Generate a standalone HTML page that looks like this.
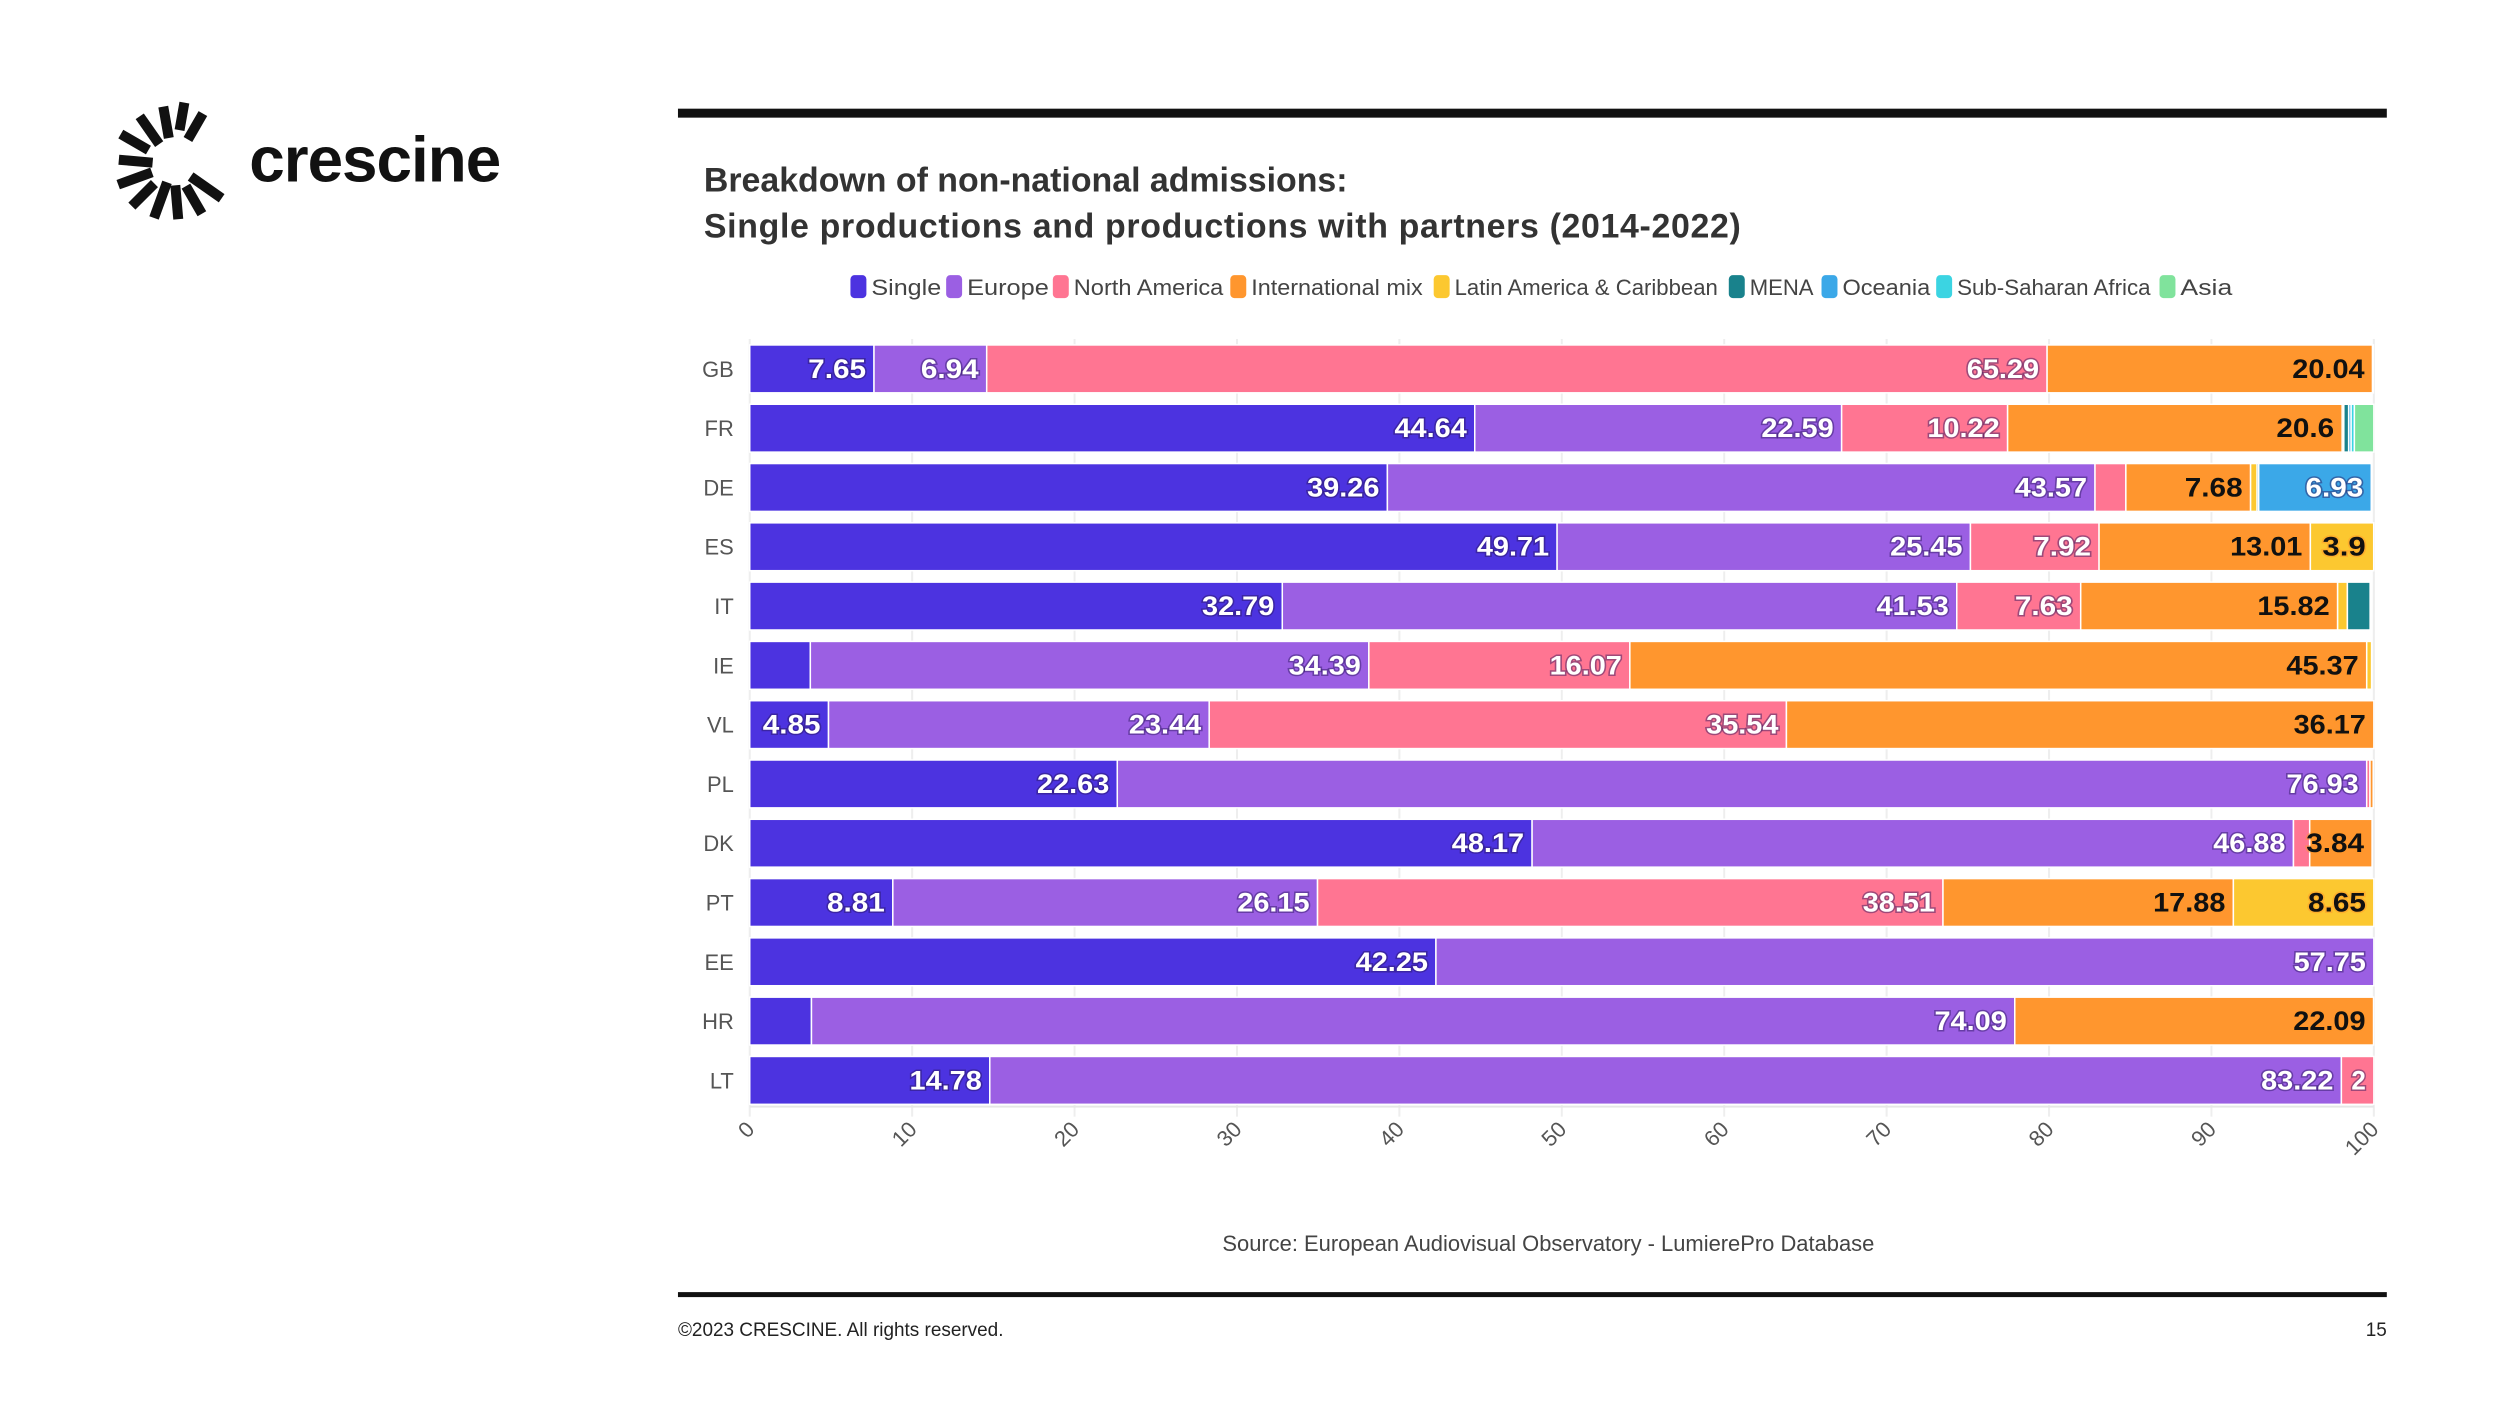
<!DOCTYPE html>
<html><head><meta charset="utf-8"><style>
body{margin:0;background:#fff;}
svg{display:block;font-family:"Liberation Sans",sans-serif;}
</style></head><body>
<svg id="svgroot" width="2500" height="1407" viewBox="0 0 2500 1407" xmlns="http://www.w3.org/2000/svg">
<g id="s" transform="scale(0.997)">
<g id="logo"></g>
<text x="250" y="182" font-size="64" font-weight="bold" letter-spacing="-1" fill="#111">crescine</text>
<rect x="680" y="109" width="1714" height="9" fill="#111"/>
<text x="706" y="192" font-size="34" font-weight="bold" fill="#333">Breakdown of non-national admissions:</text>
<text x="706" y="238" font-size="34" font-weight="bold" fill="#333" textLength="1040">Single productions and productions with partners (2014-2022)</text>
<g id="legend"></g>
<g id="grid"></g>
<g id="bars"></g>
<g id="axis"></g>
<text x="1553" y="1255" font-size="22" fill="#444" text-anchor="middle">Source: European Audiovisual Observatory - LumierePro Database</text>
<rect x="680" y="1296" width="1714" height="5" fill="#111"/>
<text x="680" y="1340" font-size="19" fill="#222">©2023 CRESCINE. All rights reserved.</text>
<text x="2394" y="1340" font-size="19" fill="#222" text-anchor="end">15</text>
</g>
</svg>
<script>
const categories=["GB","FR","DE","ES","IT","IE","VL","PL","DK","PT","EE","HR","LT"];
const seriesNames=["Single","Europe","North America","International mix","Latin America & Caribbean","MENA","Oceania","Sub-Saharan Africa","Asia"];
const single=[7.65,44.64,39.26,49.71,32.79,3.73,4.85,22.63,48.17,8.81,42.25,3.8,14.78];
const europe=[6.94,22.59,43.57,25.45,41.53,34.39,23.44,76.93,46.88,26.15,57.75,74.09,83.22];
const northAmerica=[65.29,10.22,1.9,7.92,7.63,16.07,35.54,0.2,1.0,38.51,0,0,2];
const intlMix=[20.04,20.6,7.68,13.01,15.82,45.37,36.17,0.2,3.84,17.88,0,22.09,0];
const latam=[0.05,0.1,0.4,3.9,0.6,0.3,0,0,0,8.65,0,0,0];
const mena=[0,0.3,0.1,0,1.4,0,0,0,0,0,0,0,0];
const oceania=[0,0.15,6.93,0,0,0,0,0,0,0,0,0,0];
const ssa=[0,0.2,0,0,0,0,0,0,0,0,0,0,0];
const asia=[0,1.2,0,0,0,0,0,0,0,0,0,0,0];
const ticks=[0,10,20,30,40,50,60,70,80,90,100];
const series=[single,europe,northAmerica,intlMix,latam,mena,oceania,ssa,asia];
const colors=["#4c33e0","#9b5fe3","#ff7592","#ff962e","#fcc830","#19828c","#3ba8e8","#3bd4e2","#80e39c"];
const dark=[false,false,false,true,true,false,false,false,false];
const NS="http://www.w3.org/2000/svg";
function mk(t,a,p){const e=document.createElementNS(NS,t);for(const k in a)e.setAttribute(k,a[k]);(p||document.getElementById('s')).appendChild(e);return e;}
const X0=752,X1=2381;
const x=v=>X0+(X1-X0)*v/100;
const yC=i=>370+i*59.47;
const BH=48;
// logo rays
const logo=document.getElementById('logo');
const rays=[[-100,26,22],[-125,24,24],[-150,28,22],[-175,20,24],[160,22,26],[135,26,22],[110,18,28],[85,20,24],[60,24,22],[35,20,28],[-60,28,20],[-80,34,18]];
rays.forEach((r,i)=>{const a=r[0]*Math.PI/180;const cx=174+Math.cos(a)*(r[1]+r[2]/2+6),cy=165+Math.sin(a)*(r[1]+r[2]/2+6);
const e=mk('rect',{x:cx-r[2]/2-5,y:cy-5,width:r[2]+10,height:10,fill:'#111',transform:`rotate(${r[0]} ${cx} ${cy})`},logo);

});
// legend
const lg=document.getElementById('legend');
const lx=[853,949,1056,1234,1438,1734,1827,1942,2166];
const lw=[70,82,150,172,264,64,88,194,52];
seriesNames.forEach((n,i)=>{const g=mk('g',{},lg);


mk('rect',{x:lx[i],y:276,width:16,height:23,rx:4,fill:colors[i]},g);
mk('text',{x:lx[i]+21,y:296,'font-size':22,fill:'#444',textLength:lw[i],lengthAdjust:'spacingAndGlyphs'},g).textContent=n;});
// grid
const gr=document.getElementById('grid');
ticks.forEach(t=>{const l=mk('line',{x1:x(t),x2:x(t),y1:340,y2:1120,stroke:'#eee','stroke-width':2},gr);

});
// bars
const bg=document.getElementById('bars');
categories.forEach((c,i)=>{
 const cl=mk('text',{x:736,y:yC(i)+8,'font-size':22,fill:'#555','text-anchor':'end'},bg);
 
 
 cl.textContent=c;
 let acc=0;
 series.forEach((s,j)=>{const v=s[i];if(!v)return;
  const r=mk('rect',{x:x(acc),y:yC(i)-BH/2,width:Math.max(0,x(acc+v)-x(acc)),height:BH,fill:colors[j],stroke:'#fff','stroke-width':1.5},bg);
  
  
  const txt=String(v);
  if(v>=3.84||(Number.isInteger(v)&&v>=2)){const t=mk('text',{x:x(acc+v)-8,y:yC(i)+9,'font-size':27,'font-weight':'bold','text-anchor':'end',fill:dark[j]?'#111':'#fff',stroke:dark[j]?'rgba(255,150,40,0.5)':'rgba(40,20,90,0.45)','stroke-width':3,'paint-order':'stroke',textLength:txt.length*14.5,lengthAdjust:'spacingAndGlyphs'},bg);
   
   
   t.textContent=txt;}
  acc+=v;});
});
// axis
const ax=document.getElementById('axis');
mk('line',{x1:X0,x2:X1,y1:1110,y2:1110,stroke:'#e6e6e6','stroke-width':2},ax);
ticks.forEach(t=>{const tx=mk('text',{x:x(t)+6,y:1134,'font-size':22,fill:'#555','text-anchor':'end',transform:`rotate(-45 ${x(t)+6} 1134)`},ax);


tx.textContent=t;});
</script>
</body></html>
